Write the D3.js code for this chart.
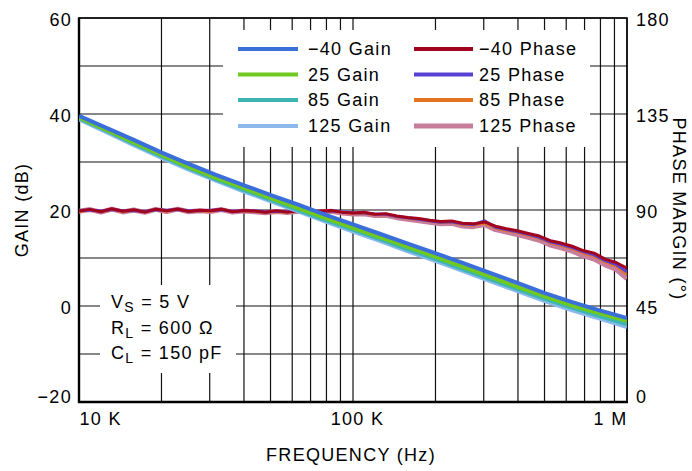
<!DOCTYPE html>
<html><head><meta charset="utf-8">
<script src="https://cdn.jsdelivr.net/npm/d3@7"></script>
<style>
html,body{margin:0;padding:0;background:#fff;}
svg text{font-family:"Liberation Sans",Arial,Helvetica,sans-serif;font-size:18px;letter-spacing:1.3px;fill:#000;}
</style></head><body>
<svg id="c" width="692" height="471"></svg>
<script>
// ---------- data ----------
const gainFreqK = [10, 12.59, 15.85, 19.95, 25.12, 31.62, 39.81, 50.12, 63.1, 79.43, 100, 125.9, 158.5, 199.5, 251.2, 316.2, 398.1, 501.2, 631, 794.3, 1000];
const gainM40  = [39.6, 37.1, 34.6, 32.0, 29.6, 27.3, 25.2, 23.1, 21.1, 19.0, 17.0, 15.0, 13.0, 11.0, 9.0, 6.9, 4.8, 2.7, 0.8, -0.9, -2.5];
const gain25   = [39.3, 36.7, 34.1, 31.5, 29.0, 26.7, 24.6, 22.5, 20.4, 18.3, 16.3, 14.3, 12.3, 10.3, 8.2, 6.1, 4.0, 2.0, 0.1, -1.5, -3.1];
const gain85   = [39.1, 36.5, 33.8, 31.2, 28.7, 26.4, 24.2, 22.1, 20.0, 17.9, 15.9, 13.9, 11.8, 9.8, 7.7, 5.6, 3.5, 1.5, -0.4, -2.1, -3.8];
const gain125  = [38.9, 36.2, 33.5, 30.9, 28.4, 26.1, 23.9, 21.8, 19.7, 17.6, 15.5, 13.5, 11.4, 9.4, 7.3, 5.2, 3.1, 1.0, -0.9, -2.6, -4.4];

const phaseFreqK = [10, 10.96, 12.02, 13.18, 14.45, 15.85, 17.38, 19.05, 20.89, 22.91, 25.12, 27.54, 30.2, 33.11, 36.31, 39.81, 43.65, 47.86, 52.48, 57.54, 63.1, 69.18, 75.86, 83.18, 91.2, 100, 109.6, 120.2, 131.8, 144.5, 158.5, 173.8, 190.5, 208.9, 229.1, 251.2, 275.4, 302, 331.1, 363.1, 398.1, 436.5, 478.6, 524.8, 575.4, 631, 691.8, 758.6, 831.8, 912, 1000];
const phaseM40 = [89.5, 90.3, 89.2, 90.6, 89.4, 90.1, 89.0, 90.4, 89.6, 90.5, 89.3, 89.9, 89.6, 90.4, 89.2, 89.8, 89.5, 88.9, 89.6, 89.0, 89.7, 89.1, 89.5, 89.8, 89.0, 88.6, 88.9, 88.0, 88.3, 87.2, 86.5, 86.0, 85.2, 84.6, 84.9, 83.8, 83.5, 84.4, 82.4, 81.2, 80.3, 79.0, 77.8, 75.6, 74.5, 73.0, 71.0, 69.8, 67.0, 65.4, 62.7];
const phase25  = [89.8, 90.0, 89.5, 90.2, 89.7, 89.8, 89.3, 90.1, 89.9, 90.2, 89.6, 89.7, 89.9, 90.1, 89.4, 89.6, 89.7, 89.1, 89.4, 89.2, 89.5, 89.3, 89.2, 89.6, 89.1, 88.7, 88.6, 88.1, 88.0, 87.0, 86.4, 85.7, 85.0, 84.2, 84.5, 83.5, 83.2, 84.9, 81.9, 80.8, 79.8, 78.6, 77.2, 75.1, 73.9, 72.4, 70.5, 69.0, 66.3, 64.5, 61.0];
const phase85  = [89.3, 90.1, 89.4, 90.3, 89.2, 89.9, 89.2, 90.2, 89.4, 90.3, 89.5, 89.6, 89.4, 90.2, 89.3, 89.5, 89.3, 89.0, 89.3, 88.9, 89.4, 89.0, 89.3, 89.5, 88.9, 88.4, 88.5, 87.8, 87.9, 86.9, 86.1, 85.6, 84.8, 84.1, 84.3, 83.2, 82.9, 83.9, 81.6, 80.4, 79.4, 78.1, 76.8, 74.7, 73.4, 71.9, 69.9, 68.4, 65.7, 63.8, 59.8];
const phase125 = [89.4, 90.2, 89.0, 90.4, 89.1, 90.0, 88.9, 90.3, 89.3, 90.4, 89.2, 89.7, 89.3, 90.2, 89.0, 89.5, 89.2, 88.7, 89.3, 88.8, 89.4, 88.8, 89.1, 89.4, 88.6, 88.1, 88.2, 87.4, 87.5, 86.4, 85.6, 85.0, 84.2, 83.5, 83.7, 82.5, 82.2, 83.2, 80.8, 79.6, 78.5, 77.2, 75.8, 73.6, 72.3, 70.7, 68.6, 67.0, 64.3, 62.2, 57.8];

const gainTicks = [-20, 0, 20, 40, 60];
const phaseTicks = [0, 45, 90, 135, 180];
const freqTickValuesK = [10, 100, 1000];
const freqTickLabels = ["10 K", "100 K", "1 M"];
const gainNames = ["\u221240 Gain", "25 Gain", "85 Gain", "125 Gain"];
const phaseNames = ["\u221240 Phase", "25 Phase", "85 Phase", "125 Phase"];
const gainColors = ["#3a6edb", "#70c91f", "#3db5b2", "#8bb9ec"];
const phaseColors = ["#a2041f", "#5842d6", "#e6731f", "#c97d9d"];

// ---------- setup ----------
const svg = d3.select("#c");
const L = 79, R = 627, T = 18, B = 402;
const x = d3.scaleLog().domain([10, 1000]).range([L, R]);
const yG = d3.scaleLinear().domain([-20, 60]).range([B, T]);
const yP = d3.scaleLinear().domain([0, 180]).range([B, T]);

// grid
const grid = svg.append("g");
const vTicks = [];
[10, 100].forEach(dec => { for (let k = 1; k <= 9; k++) vTicks.push(dec * k); });
vTicks.push(1000);
grid.selectAll("line.v").data(vTicks).join("line")
  .attr("x1", d => x(d)).attr("x2", d => x(d)).attr("y1", T).attr("y2", B)
  .attr("stroke", "#111").attr("stroke-width", 1.2);
grid.selectAll("line.h").data(d3.range(-20, 61, 10)).join("line")
  .attr("x1", L).attr("x2", R).attr("y1", d => yG(d)).attr("y2", d => yG(d))
  .attr("stroke", "#111").attr("stroke-width", 1.2);

// white boxes (legend, annotation)
svg.append("rect").attr("x", 223).attr("y", 30).attr("width", 367).attr("height", 117).attr("fill", "#fff");
svg.append("rect").attr("x", 100).attr("y", 285).attr("width", 136).attr("height", 88).attr("fill", "#fff");

// frame
svg.append("rect").attr("x", L).attr("y", T).attr("width", R - L).attr("height", B - T)
  .attr("fill", "none").attr("stroke", "#000").attr("stroke-width", 1.5);
svg.append("line").attr("x1", L).attr("x2", L).attr("y1", T - 0.5).attr("y2", B + 1).attr("stroke", "#000").attr("stroke-width", 2.4);
svg.append("line").attr("x1", L - 1).attr("x2", R + 1).attr("y1", B).attr("y2", B).attr("stroke", "#000").attr("stroke-width", 2.4);

// data lines
svg.append("defs").append("clipPath").attr("id", "clip").append("rect")
  .attr("x", L).attr("y", T).attr("width", R - L).attr("height", B - T);
const plot = svg.append("g").attr("clip-path", "url(#clip)");

const phaseSeries = [phaseM40, phase25, phase85, phase125];
const gainSeries = [gainM40, gain25, gain85, gain125];
const lineP = d3.line().x((d, i) => x(phaseFreqK[i])).y(d => yP(d));
const lineG = d3.line().x((d, i) => x(gainFreqK[i])).y(d => yG(d));
const pWidths = [3, 3, 3, 5];
[3, 2, 1, 0].forEach(i => {
  plot.append("path").attr("d", lineP(phaseSeries[i])).attr("fill", "none")
    .attr("stroke", phaseColors[i]).attr("stroke-width", pWidths[i]).attr("stroke-linejoin", "round");
});
[3, 2, 1, 0].forEach(i => {
  plot.append("path").attr("d", lineG(gainSeries[i])).attr("fill", "none")
    .attr("stroke", gainColors[i]).attr("stroke-width", 4).attr("stroke-linejoin", "round");
});

// axes
const axL = svg.append("g").attr("transform", `translate(${L},0)`)
  .call(d3.axisLeft(yG).tickValues(gainTicks).tickSize(0).tickPadding(7).tickFormat(d => d < 0 ? "\u2212" + Math.abs(d) : d));
const axR = svg.append("g").attr("transform", `translate(${R},0)`)
  .call(d3.axisRight(yP).tickValues(phaseTicks).tickSize(0).tickPadding(9));
const axB = svg.append("g").attr("transform", `translate(0,${B})`)
  .call(d3.axisBottom(x).tickValues(freqTickValuesK).tickSize(0).tickPadding(10).tickFormat((d, i) => freqTickLabels[i]));
[axL, axR, axB].forEach(a => {
  a.select(".domain").remove();
  a.selectAll("text").attr("font-family", null).attr("font-size", null).style("font-size", "18px").attr("fill", "#000");
});
axL.selectAll("text").attr("dy", d => d === -20 ? "0em" : "0.42em");
axR.selectAll("text").attr("dy", d => d === 0 ? "0em" : "0.42em");
axB.selectAll("text").attr("text-anchor", (d, i) => i === 0 ? "start" : i === 2 ? "end" : "middle")
  .attr("dx", (d, i) => i === 1 ? "4" : "0");

// axis titles
svg.append("text").attr("transform", "translate(28,210) rotate(-90)").attr("text-anchor", "middle").text("GAIN (dB)");
svg.append("text").attr("transform", "translate(673,209) rotate(90)").attr("text-anchor", "middle").text("PHASE MARGIN (\u00b0)");
svg.append("text").attr("x", 351).attr("y", 461).attr("text-anchor", "middle").text("FREQUENCY (Hz)");

// legend
const lgY = [55, 80.5, 106, 132];
gainNames.forEach((n, i) => {
  svg.append("line").attr("x1", 238).attr("x2", 298).attr("y1", lgY[i] - 6).attr("y2", lgY[i] - 6)
    .attr("stroke", gainColors[i]).attr("stroke-width", 4);
  svg.append("text").attr("x", 308).attr("y", lgY[i]).text(n);
});
phaseNames.forEach((n, i) => {
  svg.append("line").attr("x1", 414).attr("x2", 473).attr("y1", lgY[i] - 6).attr("y2", lgY[i] - 6)
    .attr("stroke", phaseColors[i]).attr("stroke-width", i === 3 ? 5 : 4);
  svg.append("text").attr("x", 479).attr("y", lgY[i]).text(n);
});

// annotation
const ann = [["V", "S", " = 5 V"], ["R", "L", " = 600 \u03a9"], ["C", "L", " = 150 pF"]];
ann.forEach((a, i) => {
  const t = svg.append("text").attr("x", 111).attr("y", 308 + i * 25.5);
  t.append("tspan").text(a[0]);
  t.append("tspan").attr("dy", 4).style("font-size", "14px").text(a[1]);
  t.append("tspan").attr("dy", -4).text(a[2]);
});
</script>
</body></html>
